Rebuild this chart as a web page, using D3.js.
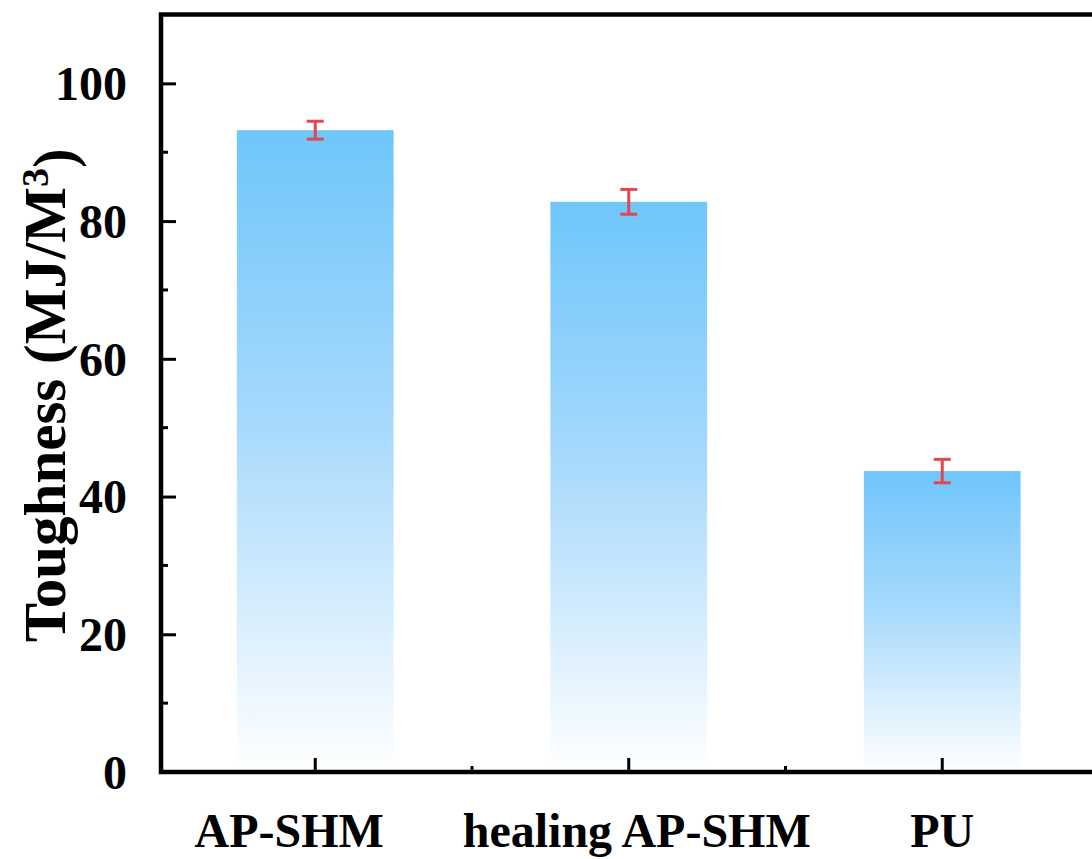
<!DOCTYPE html>
<html>
<head>
<meta charset="utf-8">
<script src="https://cdn.jsdelivr.net/npm/d3@7"></script>
<style>
    body { margin: 0; background: #fff; }
    text { font-family: "Liberation Serif", "Times New Roman", serif; font-weight: bold; fill: #000; }
</style>
</head>
<body>
<svg id="chart" width="1092" height="859"></svg>
<script>
// data
const categories = ["AP-SHM", "healing AP-SHM", "PU"];
const toughness = [93.2, 82.8, 43.7];
const errors = [1.3, 1.8, 1.7];
const yTicks = [0, 20, 40, 60, 80, 100];

const svg = d3.select("#chart");
const plotLeft = 161, plotTop = 14.5, plotBottom = 772, plotRight = 1099;

let x = d3.scaleBand()
    .domain(categories)
    .range([plotLeft - 2.5, plotRight])
    .paddingInner(0.5)
    .paddingOuter(0.25);

let y = d3.scaleLinear()
    .domain([0, 110])
    .range([plotBottom, plotTop]);

// gradient for the bars, dark at top fading out
let defs = svg.append("defs");
let grad = defs.append("linearGradient")
    .attr("id", "barGrad")
    .attr("x1", 0).attr("y1", 0)
    .attr("x2", 0).attr("y2", 1);
grad.append("stop").attr("offset", "0%").attr("stop-color", "#6fc6fb");
grad.append("stop").attr("offset", "45%").attr("stop-color", "#a6d9fc");
grad.append("stop").attr("offset", "100%").attr("stop-color", "#ffffff");

let gBars = svg.append("g");
gBars.selectAll("rect")
    .data(toughness)
    .enter()
    .append("rect")
    .attr("x", (d, i) => x(categories[i]))
    .attr("width", x.bandwidth())
    .attr("y", d => y(d))
    .attr("height", d => y(0) - y(d))
    .attr("fill", "url(#barGrad)");

// error bars
let gErr = svg.append("g")
    .attr("stroke", "#e2474f")
    .attr("stroke-width", 3);
let capW = 8.5;
toughness.forEach(function (d, i) {
    let cx = x(categories[i]) + x.bandwidth() / 2;
    let e = errors[i];
    gErr.append("line")
        .attr("x1", cx).attr("x2", cx)
        .attr("y1", y(d + e)).attr("y2", y(d - e));
    gErr.append("line")
        .attr("x1", cx - capW).attr("x2", cx + capW)
        .attr("y1", y(d + e)).attr("y2", y(d + e));
    gErr.append("line")
        .attr("x1", cx - capW).attr("x2", cx + capW)
        .attr("y1", y(d - e)).attr("y2", y(d - e));
});

// y axis, ticks point inward
let yAxis = d3.axisLeft(y)
    .tickValues(yTicks)
    .tickSizeInner(-15)
    .tickSizeOuter(0)
    .tickPadding(19 + 15);
let gY = svg.append("g")
    .attr("transform", `translate(${plotLeft},0)`)
    .call(yAxis);
gY.select(".domain").remove();
gY.selectAll(".tick line").attr("stroke", "#000").attr("stroke-width", 3);
gY.selectAll(".tick text")
    .style("font-size", "48px")
    .attr("dy", "0.34em");

// y minor ticks
svg.append("g").selectAll("line")
    .data(d3.range(10, 110, 20))
    .enter()
    .append("line")
    .attr("x1", plotLeft).attr("x2", plotLeft + 7)
    .attr("y1", d => y(d)).attr("y2", d => y(d))
    .attr("stroke", "#000").attr("stroke-width", 3);

// x axis
let xAxis = d3.axisBottom(x)
    .tickSizeInner(-14)
    .tickSizeOuter(0)
    .tickPadding(60);
let gX = svg.append("g")
    .attr("transform", `translate(0,${plotBottom})`)
    .call(xAxis);
gX.select(".domain").remove();
gX.selectAll(".tick line").attr("stroke", "#000").attr("stroke-width", 3);
const labelShift = [-26, 8, 0];
gX.selectAll(".tick text")
    .style("font-size", "48px")
    .attr("dy", 0)
    .attr("y", 847 - plotBottom)
    .attr("dx", (d, i) => labelShift[i]);

// x minor ticks, between categories
let mids = [];
for (let i = 0; i < categories.length - 1; ++i) {
    mids.push((x(categories[i]) + x(categories[i + 1]) + x.bandwidth()) / 2);
}
svg.append("g").selectAll("line")
    .data(mids)
    .enter()
    .append("line")
    .attr("x1", d => d).attr("x2", d => d)
    .attr("y1", plotBottom).attr("y2", plotBottom - 6)
    .attr("stroke", "#000").attr("stroke-width", 3);

// frame
svg.append("rect")
    .attr("x", plotLeft)
    .attr("y", plotTop)
    .attr("width", plotRight - plotLeft)
    .attr("height", plotBottom - plotTop)
    .attr("fill", "none")
    .attr("stroke", "#000")
    .attr("stroke-width", 4.5);

// y title
let title = svg.append("text")
    .attr("transform", `translate(65,${(plotTop + plotBottom) / 2 + 2}) rotate(-90)`)
    .attr("text-anchor", "middle")
    .style("font-size", "59px");
title.append("tspan").text("Toughness (MJ/M");
title.append("tspan").text("3").attr("dy", "-0.45em").style("font-size", "38px");
title.append("tspan").text(")").attr("dy", "0.45em");
</script>
</body>
</html>
